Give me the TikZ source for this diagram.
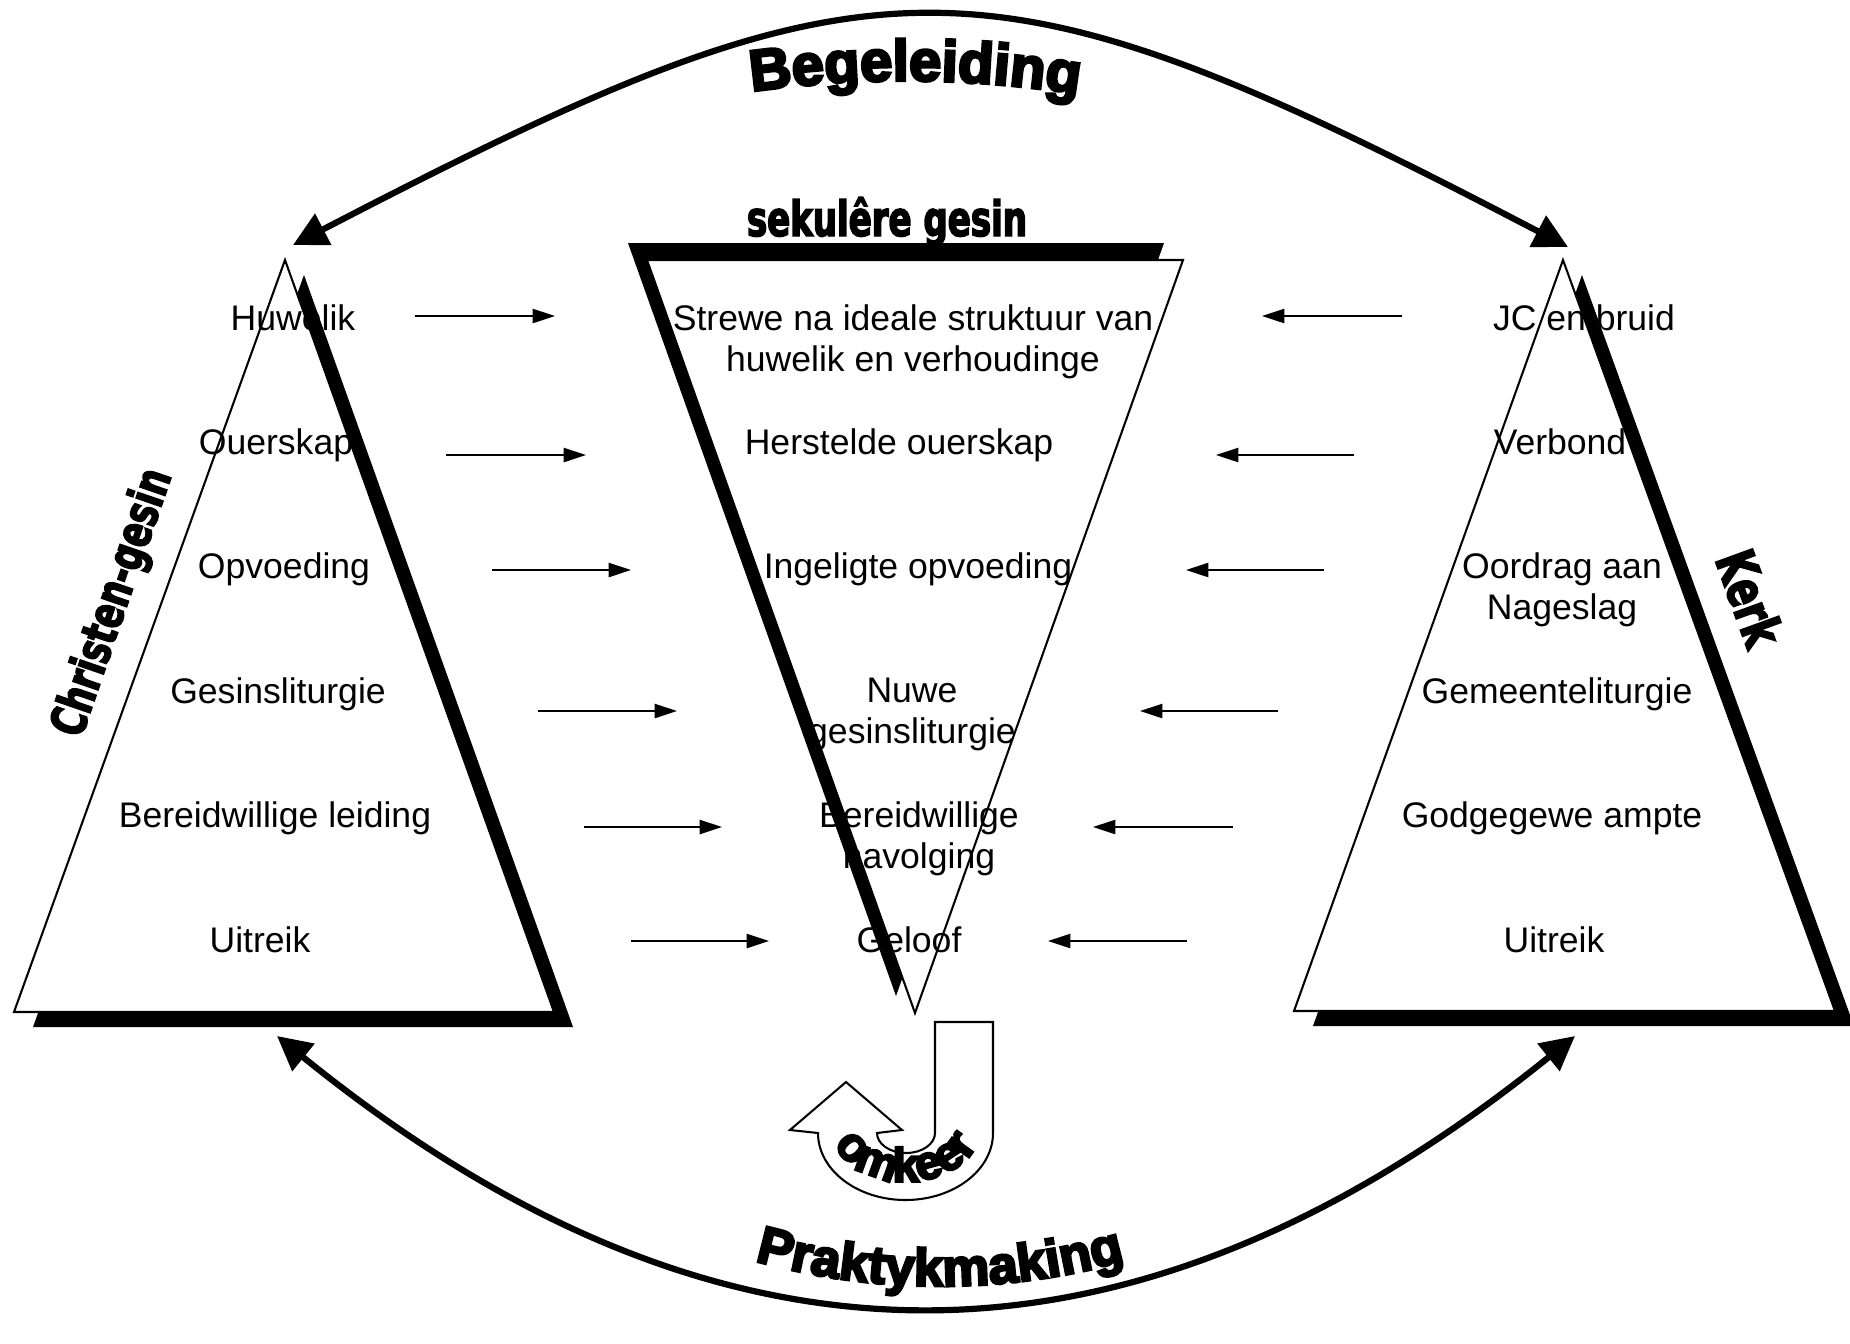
\documentclass[tikz,border=0pt]{standalone}
\usepackage{fontspec}
\setmainfont{Liberation Sans}
\newfontfamily\blackfont{Liberation Sans Bold}[FakeBold=5]
\newfontfamily\impactfont{DejaVu Sans Bold}[FakeStretch=0.7,FakeBold=3]
\usetikzlibrary{arrows.meta,decorations.text}

\begin{document}
\begin{tikzpicture}[x=0.017cm, y=-0.017cm, every node/.style={inner sep=0},
    item/.style={font=\fontsize{17.2}{19.8}\selectfont, align=center, anchor=north},
    link/.style={-{Triangle[length=0.38cm,width=0.24cm]}, line width=1pt},
    bow/.style={{Triangle[length=0.58cm,width=0.58cm]}-{Triangle[length=0.58cm,width=0.58cm]}, line width=3pt},
    tri/.style={draw, fill=white, line width=1pt},
    heavy/.style={font=\impactfont\fontsize{23.5}{24}\selectfont}]
  \useasboundingbox (0,0) rectangle (1850,1344);

  % Shadows, then the three triangles
  \fill (304,275) -- (33,1027) -- (573,1027) -- cycle;
  \fill (1582,275) -- (1313,1026) -- (1854,1026) -- cycle;
  \fill (628,243) -- (1164,243) -- (896,996) -- cycle;
  \draw[tri] (285,260) -- (14,1012) -- (554,1012) -- cycle;
  \draw[tri] (1563,260) -- (1294,1011) -- (1835,1011) -- cycle;
  \draw[tri] (647,260) -- (1183,260) -- (915,1013) -- cycle;

  % Items of the three columns
  \foreach \t/\x [count=\n] in {Huwelik/293, Ouerskap/276, Opvoeding/284,
      Gesinsliturgie/278, Bereidwillige leiding/275, Uitreik/260} {
    \node[item] (ci\n) at (\x, {179.6+124.4*\n}) {\t};
  }
  \foreach \t/\x [count=\n] in {{Strewe na ideale struktuur van\\huwelik en verhoudinge}/913,
      Herstelde ouerskap/899, Ingeligte opvoeding/918, {Nuwe\\gesinsliturgie}/912,
      {Bereidwillige\\navolging}/919, Geloof/909} {
    \node[item] (si\n) at (\x, {179.6+124.4*\n}) {\t};
  }
  \foreach \t/\x [count=\n] in {JC en bruid/1584, Verbond/1560, {Oordrag aan\\Nageslag}/1562,
      Gemeenteliturgie/1557, Godgegewe ampte/1552, Uitreik/1554} {
    \node[item] (ki\n) at (\x, {179.6+124.4*\n}) {\t};
  }

  % Small arrows towards the middle
  \foreach \a/\b/\c/\d/\y [count=\n] in {415/555/1402/1262/316, 446/586/1354/1216/455,
      492/631/1324/1186/570, 538/677/1278/1140/711, 584/722/1233/1093/827,
      631/769/1187/1048/941} {
    \coordinate (la\n) at (\a,\y);
    \coordinate (lb\n) at (\b,\y);
    \coordinate (ra\n) at (\c,\y);
    \coordinate (rb\n) at (\d,\y);
    \draw[link] (la\n) -- (lb\n);
    \draw[link] (ra\n) -- (rb\n);
  }

  % Side labels
  \node[heavy, anchor=base] (sekulere) at (887,236) {sekulêre gesin};
  \node[heavy, rotate=71] (christen) at (114,603) {Christen-gesin};
  \node[heavy, rotate=-70, font=\impactfont\fontsize{26}{27}\selectfont] (kerk) at (1750,598) {Kerk};

  % Big bows
  \coordinate (topL) at (293,245);
  \coordinate (topR) at (1568,247);
  \coordinate (botL) at (277,1036);
  \coordinate (botR) at (1575,1036);
  \draw[bow] (topL) .. controls (880,-60) and (980,-60) .. (topR);
  \draw[bow] (botL) .. controls (720,1395) and (1130,1395) .. (botR);
  \path[decorate, decoration={text along path, text align=center,
      text={|\blackfont\fontsize{28}{30}\selectfont|Begeleiding}}]
    (720,96) .. controls (850,75) and (980,75) .. (1110,100);
  \path[decorate, decoration={text along path, text align=center,
      text={|\blackfont\fontsize{25.5}{27}\selectfont|Praktykmaking}}]
    (720,1250) .. controls (860,1298) and (1020,1298) .. (1160,1250);

  % Omkeer arrow
  \draw[line width=1pt, fill=white] (935,1022) -- (993,1022) -- (993,1133)
    arc[start angle=0, end angle=180, x radius=87.5, y radius=67]
    -- (790,1130) -- (846,1082) -- (902,1130) -- (877,1133)
    arc[start angle=180, end angle=0, x radius=29, y radius=20] -- cycle;
  \path[decorate, decoration={text along path, text align=center,
      text={|\blackfont\fontsize{23}{24}\selectfont|omkeer}}]
    (832,1137) arc[start angle=170, end angle=10, x radius=75, y radius=54];
\end{tikzpicture}
\end{document}
